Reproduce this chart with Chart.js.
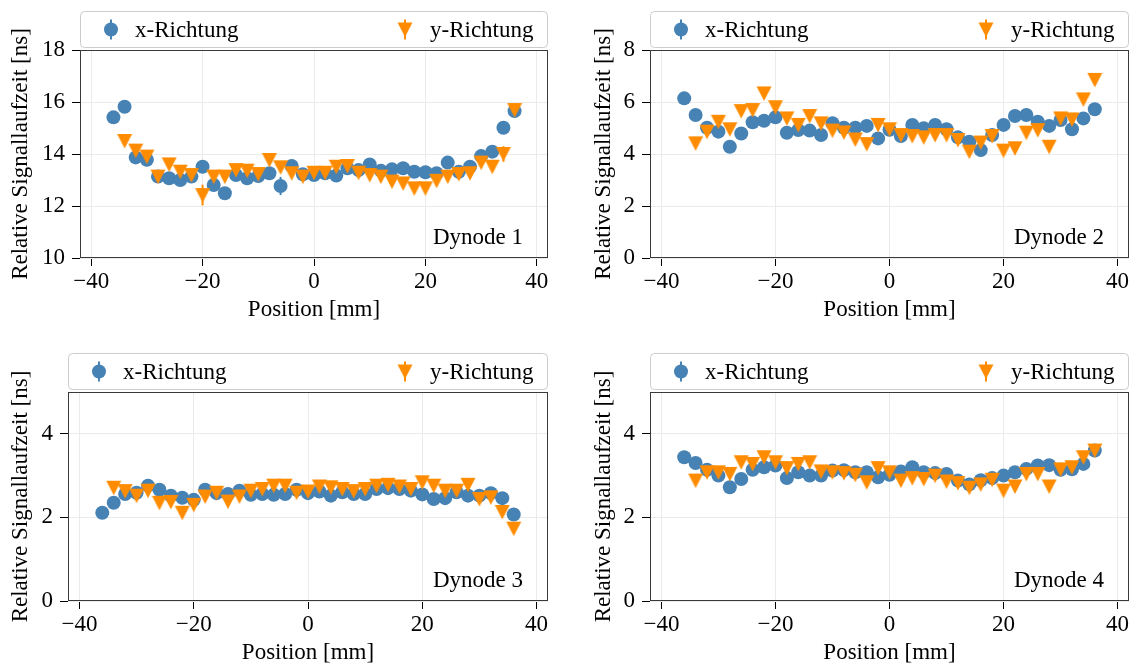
<!DOCTYPE html>
<html>
<head>
<meta charset="utf-8">
<script src="https://cdn.jsdelivr.net/npm/chart.js@4.4.0/dist/chart.umd.min.js"></script>
<style>
  body { margin: 0; background: #fff; }
  #wrap { position: relative; width: 1137px; height: 669px; }
  .panel { position: absolute; }
</style>
</head>
<body>
<div id="wrap">
  <div class="panel" style="left:0;top:0;width:568px;height:334px"><canvas id="c1"></canvas></div>
  <div class="panel" style="left:568px;top:0;width:569px;height:334px"><canvas id="c2"></canvas></div>
  <div class="panel" style="left:0;top:334px;width:568px;height:335px"><canvas id="c3"></canvas></div>
  <div class="panel" style="left:568px;top:334px;width:569px;height:335px"><canvas id="c4"></canvas></div>
</div>
<script>
// positions in mm
var posX = [-36, -34, -32, -30, -28, -26, -24, -22, -20, -18, -16, -14, -12, -10, -8, -6, -4, -2, 0,
             2, 4, 6, 8, 10, 12, 14, 16, 18, 20, 22, 24, 26, 28, 30, 32, 34, 36];
var posY = [-34, -32, -30, -28, -26, -24, -22, -20, -18, -16, -14, -12, -10, -8, -6, -4, -2, 0,
            2, 4, 6, 8, 10, 12, 14, 16, 18, 20, 22, 24, 26, 28, 30, 32, 34, 36];

// Dynode 1
var d1x = [15.41, 15.82, 13.87, 13.78, 13.13, 13.07, 13.0, 13.13, 13.51, 12.81, 12.49, 13.19, 13.07, 13.15, 13.26, 12.77, 13.54, 13.22, 13.19,
           13.26, 13.17, 13.45, 13.38, 13.6, 13.36, 13.41, 13.45, 13.32, 13.3, 13.26, 13.67, 13.32, 13.51, 13.92, 14.09, 15.01, 15.65];
var d1y = [14.5, 14.13, 13.9, 13.13, 13.6, 13.32, 13.19, 12.42, 13.13, 13.13, 13.38, 13.36, 13.23, 13.77, 13.49, 13.26, 13.13, 13.28,
           13.28, 13.51, 13.54, 13.28, 13.19, 13.13, 12.94, 12.87, 12.68, 12.68, 12.97, 13.13, 13.23, 13.26, 13.67, 13.51, 14.0, 15.69];
var d1xErr = [0.1, 0.1, 0.1, 0.1, 0.1, 0.1, 0.1, 0.1, 0.1, 0.1, 0.1, 0.1, 0.1, 0.1, 0.1, 0.35, 0.1, 0.1, 0.1,
              0.1, 0.1, 0.1, 0.1, 0.1, 0.1, 0.1, 0.1, 0.1, 0.1, 0.1, 0.1, 0.1, 0.1, 0.1, 0.1, 0.15, 0.1];
var d1yErr = [0.1, 0.1, 0.1, 0.1, 0.1, 0.1, 0.1, 0.4, 0.1, 0.1, 0.1, 0.1, 0.1, 0.15, 0.1, 0.1, 0.1, 0.1,
              0.1, 0.1, 0.1, 0.1, 0.1, 0.1, 0.1, 0.1, 0.1, 0.1, 0.1, 0.1, 0.1, 0.1, 0.1, 0.1, 0.3, 0.1];

// Dynode 2
var d2x = [6.14, 5.5, 5.01, 4.86, 4.28, 4.79, 5.22, 5.28, 5.41, 4.82, 4.92, 4.9, 4.73, 5.18, 5.01, 5.01, 5.08, 4.6, 4.93,
           4.69, 5.12, 4.99, 5.12, 4.95, 4.64, 4.47, 4.15, 4.73, 5.12, 5.46, 5.5, 5.24, 5.08, 5.31, 4.95, 5.37, 5.72];
var d2y = [4.41, 4.86, 5.24, 4.95, 5.65, 5.69, 6.33, 5.8, 5.37, 5.12, 5.46, 5.18, 4.9, 4.83, 4.56, 4.38, 5.12, 4.95,
           4.73, 4.69, 4.64, 4.73, 4.73, 4.54, 4.09, 4.44, 4.69, 4.13, 4.22, 4.82, 4.92, 4.28, 5.37, 5.33, 6.1, 6.85];

// Dynode 3
var d3x = [2.11, 2.35, 2.56, 2.59, 2.76, 2.66, 2.52, 2.47, 2.42, 2.66, 2.58, 2.56, 2.64, 2.54, 2.56, 2.54, 2.56, 2.66, 2.58,
           2.62, 2.52, 2.6, 2.56, 2.56, 2.68, 2.7, 2.68, 2.64, 2.55, 2.44, 2.46, 2.6, 2.52, 2.52, 2.58, 2.46, 2.07];
var d3y = [2.71, 2.63, 2.52, 2.64, 2.35, 2.37, 2.11, 2.3, 2.5, 2.59, 2.38, 2.5, 2.64, 2.68, 2.76, 2.76, 2.59, 2.62,
           2.74, 2.72, 2.68, 2.63, 2.68, 2.76, 2.78, 2.74, 2.68, 2.84, 2.76, 2.64, 2.64, 2.78, 2.44, 2.48, 2.13, 1.73];

// Dynode 4
var d4x = [3.44, 3.3, 3.14, 3.0, 2.72, 2.92, 3.14, 3.2, 3.24, 2.94, 3.08, 3.0, 3.0, 3.12, 3.13, 3.08, 3.08, 2.96, 3.02,
           3.1, 3.2, 3.08, 3.06, 3.04, 2.88, 2.79, 2.89, 2.94, 3.0, 3.08, 3.16, 3.24, 3.25, 3.14, 3.15, 3.28, 3.6];
var d4y = [2.88, 3.08, 3.08, 3.04, 3.32, 3.28, 3.44, 3.32, 3.18, 3.28, 3.32, 3.1, 3.08, 3.06, 3.02, 2.84, 3.18, 3.08,
           2.88, 2.94, 2.92, 3.0, 2.86, 2.82, 2.71, 2.79, 2.9, 2.64, 2.74, 3.04, 3.04, 2.74, 3.15, 3.2, 3.44, 3.6];

var xTicks = [-40, -20, 0, 20, 40];
var yTicks1 = [10, 12, 14, 16, 18];
var yTicks2 = [0, 2, 4, 6, 8];
var yTicks34 = [0, 2, 4];

var blue = '#4682b4';
var orange = '#ff8c00';
var FONT = "'Liberation Serif', 'DejaVu Serif', serif";

Chart.defaults.font.family = FONT;
Chart.defaults.font.size = 23;
Chart.defaults.color = '#000';

function triangleImg(color) {
  var c = document.createElement('canvas');
  c.width = 16; c.height = 16;
  var g = c.getContext('2d');
  g.fillStyle = color;
  g.beginPath();
  g.moveTo(0.5, 1); g.lineTo(15.5, 1); g.lineTo(8, 15.5);
  g.closePath();
  g.fill();
  return c;
}
var triOrange = triangleImg(orange);

function pts(xs, ys) {
  return xs.map(function(x, i) { return { x: x, y: ys[i] }; });
}

var errorBars = {
  id: 'errorBars',
  beforeDatasetsDraw: function(chart) {
    var ctx = chart.ctx;
    var ys = chart.scales.y;
    chart.data.datasets.forEach(function(ds, di) {
      if (!ds.err) return;
      var meta = chart.getDatasetMeta(di);
      ctx.save();
      ctx.strokeStyle = ds.backgroundColor;
      ctx.lineWidth = 2;
      meta.data.forEach(function(el, i) {
        var v = ds.data[i].y, e = ds.err[i];
        ctx.beginPath();
        ctx.moveTo(el.x, ys.getPixelForValue(v - e));
        ctx.lineTo(el.x, ys.getPixelForValue(v + e));
        ctx.stroke();
      });
      ctx.restore();
    });
  }
};

var decor = {
  id: 'decor',
  afterDraw: function(chart) {
    var ctx = chart.ctx;
    var a = chart.chartArea;
    var label = chart.options.plugins.decor.label;
    ctx.save();
    // frame
    ctx.strokeStyle = '#3a3a3a';
    ctx.lineWidth = 1;
    ctx.strokeRect(Math.round(a.left) + 0.5, Math.round(a.top) + 0.5,
                   Math.round(a.right - a.left) - 1, Math.round(a.bottom - a.top) - 1);
    // panel label
    ctx.font = '23px ' + FONT;
    ctx.fillStyle = '#000';
    ctx.textAlign = 'right';
    ctx.textBaseline = 'alphabetic';
    ctx.fillText(label, a.right - 25, a.bottom - 14);
    // legend box
    var bx = a.left, by = a.top - 39, bw = a.right - a.left, bh = 36;
    ctx.beginPath();
    ctx.roundRect(bx + 0.5, by + 0.5, bw - 1, bh, 4);
    ctx.fillStyle = 'rgba(255,255,255,0.85)';
    ctx.fill();
    ctx.strokeStyle = '#cccccc';
    ctx.stroke();
    var cy = by + bh / 2 + 0.5;
    // x-Richtung marker
    var mx = a.left + 31;
    ctx.strokeStyle = blue;
    ctx.lineWidth = 2;
    ctx.beginPath(); ctx.moveTo(mx, cy - 10); ctx.lineTo(mx, cy + 10); ctx.stroke();
    ctx.fillStyle = blue;
    ctx.beginPath(); ctx.arc(mx, cy, 7, 0, Math.PI * 2); ctx.fill();
    // y-Richtung marker
    var tx = a.right - 143;
    ctx.strokeStyle = orange;
    ctx.beginPath(); ctx.moveTo(tx, cy - 10); ctx.lineTo(tx, cy + 10); ctx.stroke();
    ctx.drawImage(triOrange, tx - 8, cy - 8);
    ctx.fillStyle = '#000';
    ctx.textAlign = 'left';
    ctx.textBaseline = 'middle';
    ctx.fillText('x-Richtung', a.left + 55, cy + 1);
    ctx.fillText('y-Richtung', a.right - 118, cy + 1);
    ctx.restore();
  }
};

function makeChart(id, xs, ys, xErr, yErr, yMin, yMax, yTicks, label, pad, yWidth, yTitlePad) {
  var ctx = document.getElementById(id).getContext('2d');
  var config = {
    type: 'scatter',
    data: {
      datasets: [{
        label: 'x-Richtung',
        data: pts(posX, xs),
        err: xErr,
        backgroundColor: blue,
        pointStyle: 'circle',
        pointRadius: 7,
        borderWidth: 0,
        order: 2
      }, {
        label: 'y-Richtung',
        data: pts(posY, ys),
        err: yErr,
        backgroundColor: orange,
        pointStyle: triOrange,
        pointRadius: 8,
        borderWidth: 0,
        order: 1
      }]
    },
    options: {
      responsive: true,
      maintainAspectRatio: false,
      animation: false,
      events: [],
      layout: { padding: pad },
      plugins: {
        legend: { display: false },
        tooltip: { enabled: false },
        decor: { label: label }
      },
      scales: {
        x: {
          type: 'linear',
          min: -42,
          max: 42,
          afterBuildTicks: function(s) { s.ticks = xTicks.map(function(v) { return { value: v }; }); },
          afterFit: function(s) { s.height = 66; },
          ticks: {
            padding: 2,
            maxRotation: 0,
            callback: function(v) { return v < 0 ? '\u2212' + Math.abs(v) : String(v); }
          },
          grid: { color: '#ebebeb', lineWidth: 1, tickLength: 8, tickColor: '#000', tickWidth: 1 },
          border: { display: false },
          title: { display: true, text: 'Position [mm]', font: { size: 23 }, padding: { top: 0, bottom: 0 } }
        },
        y: {
          type: 'linear',
          min: yMin,
          max: yMax,
          afterBuildTicks: function(s) { s.ticks = yTicks.map(function(v) { return { value: v }; }); },
          afterFit: function(s) { s.width = yWidth; },
          ticks: { padding: 7 },
          grid: { color: '#ebebeb', lineWidth: 1, tickLength: 8, tickColor: '#000', tickWidth: 1 },
          border: { display: false },
          title: { display: true, text: 'Relative Signallaufzeit [ns]', font: { size: 23 }, padding: { top: yTitlePad, bottom: 0 } }
        }
      }
    },
    plugins: [errorBars, decor]
  };
  return new Chart(ctx, config);
}

makeChart('c1', d1x, d1y, d1xErr, d1yErr, 10, 18, yTicks1, 'Dynode 1',
          { top: 50, right: 20, bottom: 10, left: 0 }, 80, 7);
makeChart('c2', d2x, d2y, null, null, 0, 8, yTicks2, 'Dynode 2',
          { top: 50, right: 7, bottom: 10, left: 0 }, 82, 22);
makeChart('c3', d3x, d3y, null, null, 0, 5, yTicks34, 'Dynode 3',
          { top: 58, right: 20, bottom: 2, left: 0 }, 68, 7);
makeChart('c4', d4x, d4y, null, null, 0, 5, yTicks34, 'Dynode 4',
          { top: 58, right: 7, bottom: 2, left: 0 }, 82, 22);
</script>
</body>
</html>
